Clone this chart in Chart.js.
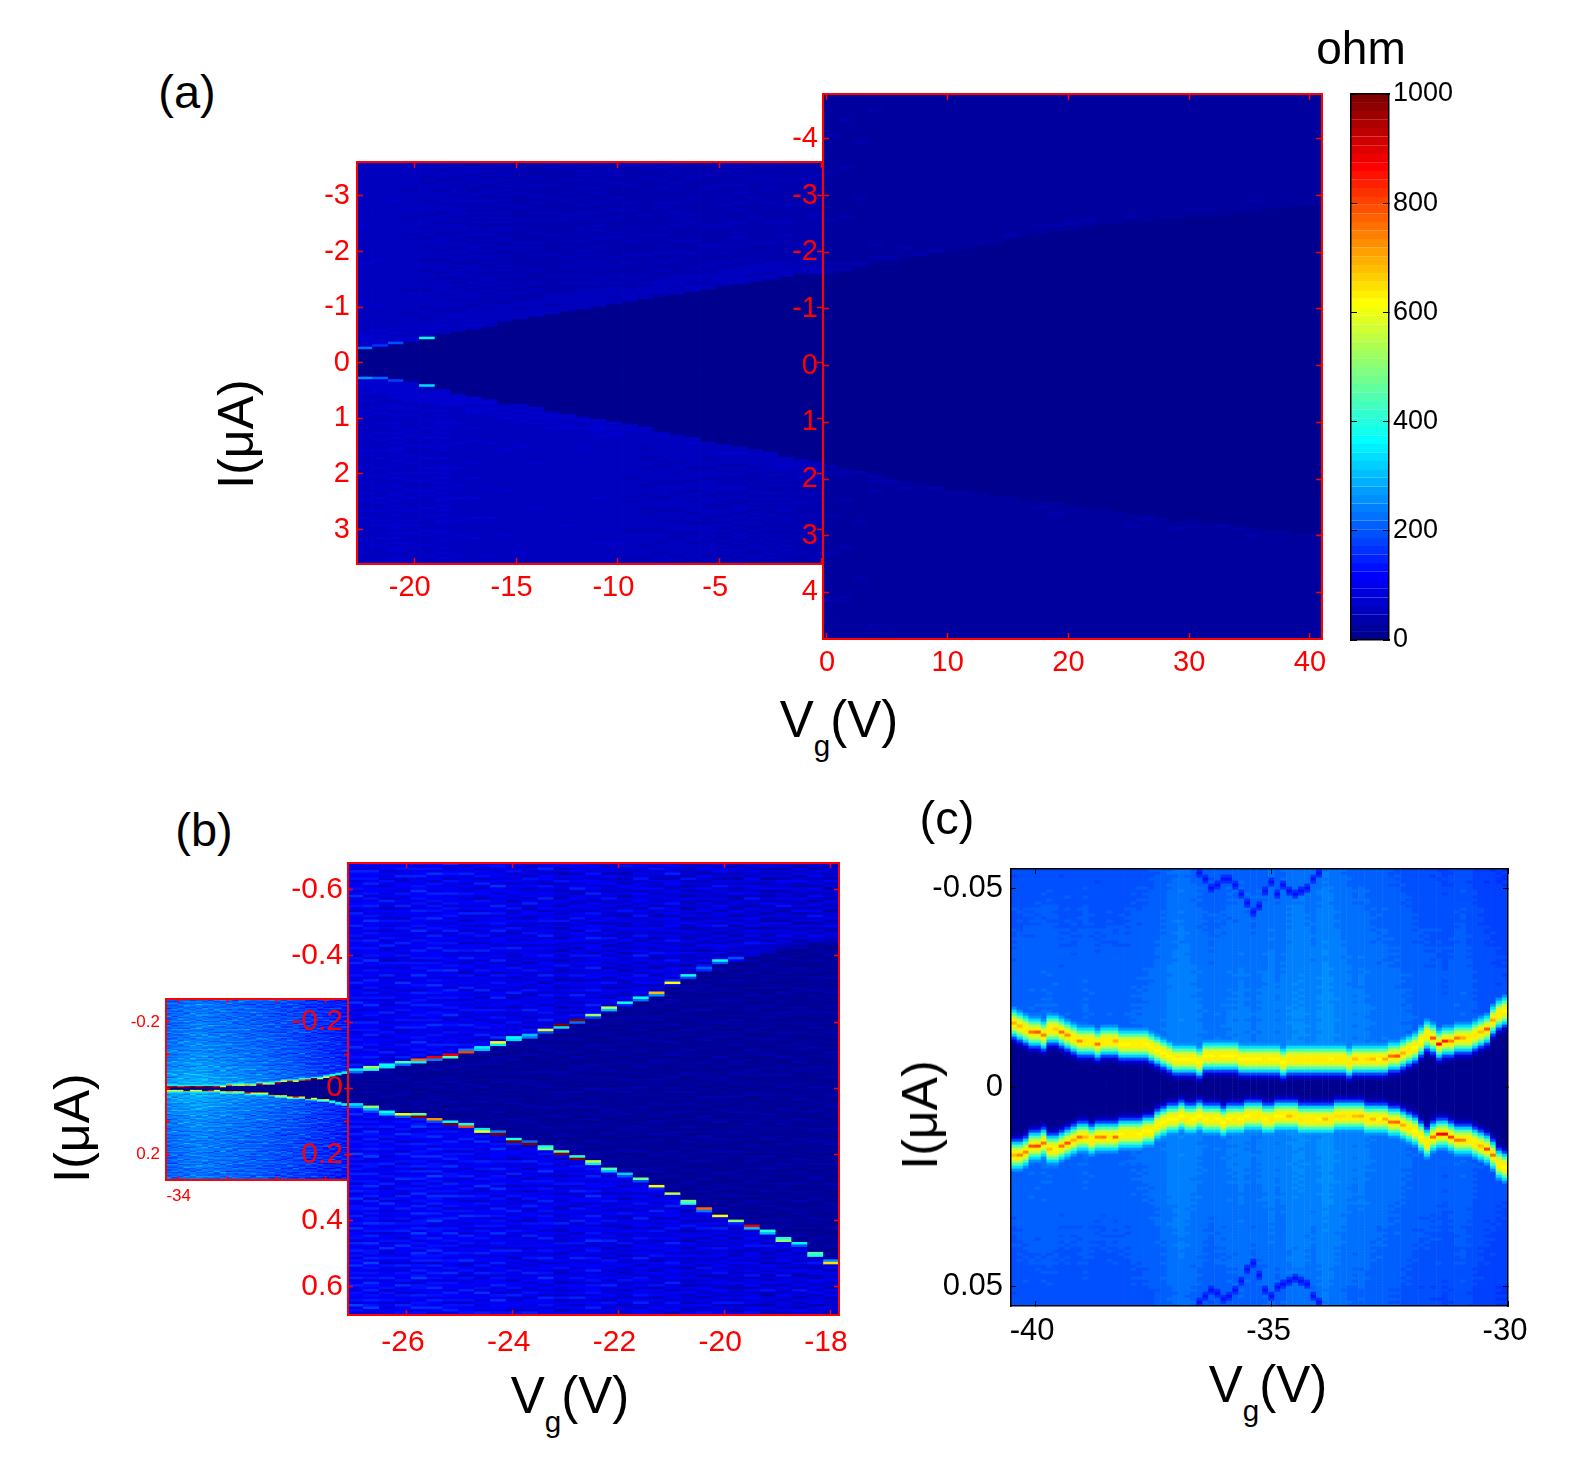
<!DOCTYPE html>
<html><head><meta charset="utf-8">
<script src="https://cdn.jsdelivr.net/npm/chart.js@4/dist/chart.umd.js"></script>
<style>
html,body{margin:0;padding:0;background:#fff;width:1590px;height:1458px;overflow:hidden}
canvas{position:absolute}
.t{position:absolute;font-family:"Liberation Sans",Arial,sans-serif;color:#000;white-space:nowrap;transform:translate(-50%,-50%);line-height:1}
.t sub{font-size:58%;vertical-align:-0.62em;line-height:0}
</style></head><body>
<script>
// ---------- panel (a), negative gate side ----------
const aLeftVg=[-22.43,-21.66,-20.89,-20.13,-19.36,-18.59,-17.83,-17.06,-16.29,-15.53,-14.76,-13.99,-13.23,-12.46,-11.69,-10.93,-10.16,-9.39,-8.63,-7.86,-7.09,-6.33,-5.56,-4.79,-4.03,-3.26,-2.49,-1.73,-0.96,-0.19];
const aLeftUp=[-0.25,-0.29,-0.35,-0.38,-0.44,-0.50,-0.57,-0.61,-0.66,-0.71,-0.76,-0.82,-0.88,-0.93,-0.97,-1.0,-1.04,-1.07,-1.13,-1.2,-1.24,-1.28,-1.33,-1.38,-1.42,-1.46,-1.5,-1.54,-1.57,-1.6];
const aLeftLow=[0.26,0.28,0.34,0.39,0.43,0.49,0.56,0.62,0.68,0.74,0.77,0.82,0.89,0.94,1.0,1.04,1.08,1.12,1.18,1.25,1.3,1.35,1.42,1.47,1.52,1.57,1.62,1.68,1.74,1.8];
const aLeftPeakUp=[230,170,190,70,360];
const aLeftPeakLow=[250,210,180,70,340];
const aLeftTintUp=[56,55,54,52,50,50,49,48,47,46,44,44,43,44,45,45,44,43,42,44,44,43,42,44,44,42,43,42,40,40];
const aLeftTintLow=[60,60,62,60,60,62,58,58,56,56,55,55,54,55,54,55,54,52,50,50,50,50,50,48,48,46,46,46,44,44];
const aLeftXTicks=[-20,-15,-10,-5,0];
const aLeftYTicks=[-3,-2,-1,0,1,2,3];
// ---------- panel (a), positive gate side ----------
const aRightVg=[0.3,1.55,2.8,4.05,5.3,6.55,7.8,9.05,10.3,11.55,12.8,14.05,15.3,16.55,17.8,19.05,20.3,21.55,22.8,24.05,25.3,26.55,27.8,29.05,30.3,31.55,32.8,34.05,35.3,36.55,37.8,39.05,40.3];
const aRightUp=[-1.6,-1.65,-1.7,-1.75,-1.82,-1.89,-1.94,-1.99,-2.01,-2.04,-2.07,-2.14,-2.2,-2.26,-2.32,-2.36,-2.39,-2.43,-2.47,-2.5,-2.52,-2.55,-2.57,-2.6,-2.62,-2.64,-2.66,-2.69,-2.71,-2.74,-2.76,-2.8,-2.83];
const aRightLow=[1.73,1.79,1.85,1.91,1.98,2.03,2.07,2.12,2.17,2.2,2.24,2.28,2.32,2.36,2.4,2.44,2.47,2.51,2.55,2.59,2.63,2.66,2.69,2.72,2.75,2.78,2.81,2.84,2.86,2.89,2.92,2.95,2.99];
const aRightTint=[27,27,26,26,25,25,24,24,24,23,23,23,23,25,25,25,25,24,24,25,25,24,24,24,25,25,24,24,24,24,23,23,23];
const aRightXTicks=[0,10,20,30,40];
const aRightYTicks=[-4,-3,-2,-1,0,1,2,3,4];
// ---------- panel (b), main map ----------
const bVg=[-26.97,-26.67,-26.37,-26.07,-25.77,-25.47,-25.17,-24.87,-24.57,-24.27,-23.97,-23.67,-23.37,-23.07,-22.77,-22.47,-22.17,-21.87,-21.57,-21.27,-20.97,-20.67,-20.37,-20.07,-19.77,-19.47,-19.17,-18.87,-18.57,-18.27,-17.97];
const bUp=[-0.054,-0.059,-0.068,-0.074,-0.082,-0.091,-0.099,-0.112,-0.123,-0.134,-0.150,-0.157,-0.172,-0.190,-0.207,-0.220,-0.243,-0.256,-0.271,-0.290,-0.318,-0.341,-0.360,-0.385,-0.394,-0.407,-0.417,-0.429,-0.437,-0.442,-0.447];
const bLow=[0.051,0.060,0.0695,0.0776,0.0796,0.0927,0.0997,0.1128,0.1249,0.1329,0.153,0.160,0.174,0.189,0.2054,0.2195,0.2447,0.2588,0.2739,0.294,0.3212,0.345,0.3686,0.3857,0.4,0.415,0.432,0.457,0.471,0.4965,0.5236];
const bUpOuter=[350,530,370,450,770,880,880,240,350,610,360,300,590,1000,1000,520,540,380,370,680,610,380,210,370,190,90,70,60,50,50,50];
const bUpInner=[230,400,350,230,350,240,450,800,300,350,330,240,200,330,220,180,300,150,230,260,80,180,150,200,120,70,50,40,40,40,40];
const bLowInner=[340,500,360,600,460,720,370,380,350,250,400,220,400,450,400,560,450,320,480,610,560,480,780,610,500,880,400,400,370,450,250];
const bLowOuter=[260,300,300,200,1000,200,1000,800,620,1000,1000,1000,480,1000,1000,350,300,200,200,150,100,400,240,100,150,300,300,500,200,400,650];
const bTint=[108,112,98,102,112,112,106,98,98,102,90,90,98,80,90,98,84,76,90,80,90,70,76,80,70,80,66,74,70,74,68];
const bXTicks=[-26,-24,-22,-20,-18];
const bYTicks=[-0.6,-0.4,-0.2,0,0.2,0.4,0.6];
// ---------- panel (b), inset map ----------
const sVg=[-34.20,-34.08,-33.95,-33.83,-33.70,-33.58,-33.45,-33.33,-33.21,-33.08,-32.96,-32.83,-32.71,-32.58,-32.46,-32.34,-32.21,-32.09,-31.96,-31.84,-31.71,-31.59,-31.47,-31.34,-31.22,-31.09,-30.97,-30.84,-30.72,-30.59];
const sUp=[-0.003,-0.003,-0.003,-0.003,-0.003,-0.003,-0.003,-0.003,-0.003,-0.004,-0.006,-0.007,-0.008,-0.009,-0.009,-0.010,-0.011,-0.012,-0.015,-0.018,-0.020,-0.021,-0.023,-0.025,-0.027,-0.028,-0.030,-0.034,-0.038,-0.043];
const sLow=[0.0102,0.0102,0.0102,0.0102,0.0102,0.0102,0.0102,0.0102,0.0102,0.011,0.012,0.013,0.014,0.015,0.016,0.017,0.018,0.020,0.023,0.025,0.027,0.028,0.030,0.032,0.034,0.036,0.038,0.041,0.045,0.049];
const sPeakUp=[880,950,800,880,1000,900,1000,1000,880,600,780,560,620,700,560,880,620,560,880,620,950,620,760,880,1000,560,620,400,350,340];
const sPeakLow=[620,600,640,1000,620,640,1000,880,620,580,700,630,560,820,600,620,600,1000,620,600,620,820,640,1000,620,500,620,380,340,330];
const sTint=[225,230,235,240,245,248,245,240,235,235,230,225,225,220,215,215,210,205,200,195,195,190,185,175,170,165,160,155,150,140];
const sBoost=[50,40,30,20,10,5,0,-5,-10,-10,-15,-15,-20,-20];
const sXTicks=[-34,-33,-32,-31];
const sYTicks=[-0.2,-0.1,0,0.1,0.2];
// ---------- panel (c) ----------
const cVg=[-40.45,-40.32,-40.19,-40.07,-39.94,-39.81,-39.69,-39.56,-39.43,-39.31,-39.18,-39.05,-38.93,-38.80,-38.67,-38.55,-38.42,-38.29,-38.17,-38.04,-37.91,-37.79,-37.66,-37.53,-37.41,-37.28,-37.15,-37.03,-36.90,-36.77,-36.65,-36.52,-36.39,-36.27,-36.14,-36.01,-35.89,-35.76,-35.63,-35.51,-35.38,-35.25,-35.13,-35.00,-34.87,-34.75,-34.62,-34.49,-34.37,-34.24,-34.11,-33.99,-33.86,-33.73,-33.61,-33.48,-33.35,-33.23,-33.10,-32.97,-32.85,-32.72,-32.59,-32.47,-32.34,-32.21,-32.09,-31.96,-31.83,-31.71,-31.58,-31.45,-31.33,-31.20,-31.07,-30.95,-30.82,-30.69,-30.57,-30.44,-30.31,-30.19,-30.06];
const cUp=[-.0160,-.01516,-.01432,-.01374,-.01348,-.01265,-.01474,-.01432,-.01365,-.01332,-.01248,-.01181,-.01181,-.01114,-.01055,-.01139,-.01181,-.01131,-.01055,-.01055,-.01064,-.01072,-.01055,-.01013,-.0093,-.00871,-.00779,-.0072,-.00662,-.00695,-.00695,-.00637,-.00745,-.00762,-.00745,-.00762,-.00762,-.00745,-.0072,-.00695,-.00678,-.00695,-.00712,-.00712,-.00678,-.00653,-.00662,-.00695,-.00695,-.00704,-.00704,-.00695,-.00695,-.00695,-.00678,-.00662,-.00628,-.00678,-.00695,-.00695,-.00695,-.00695,-.0072,-.00762,-.00796,-.00812,-.0093,-.00997,-.01139,-.01307,-.01223,-.0108,-.01114,-.01181,-.01198,-.01223,-.01248,-.01307,-.01348,-.01432,-.01642,-.01851,-.01935];
const cLow=[.0175,.01683,.01608,.01516,.01482,.01399,.01583,.01541,.01457,.01415,.01332,.0129,.0129,.01315,.01265,.01231,.01231,.01231,.01164,.01164,.01164,.01164,.01147,.0108,.00955,.00871,.00829,.00812,.00771,.00787,.00812,.00745,.00812,.00829,.00846,.00871,.00846,.00812,.00787,.00762,.00745,.00771,.00804,.00796,.00771,.00745,.00729,.00762,.00787,.00804,.00796,.00812,.00796,.00787,.00771,.00745,.00729,.00745,.00771,.00787,.00796,.00787,.00812,.00871,.00913,.0093,.01013,.01122,.01265,.01415,.01265,.01164,.01206,.01265,.01315,.01332,.01348,.01415,.01482,.01566,.0175,.0196,.02044];
const cPeakUp=[700,680,640,760,790,740,625,660,760,720,640,720,630,640,760,625,630,700,620,620,625,625,620,620,610,610,615,610,620,620,610,615,620,620,625,620,620,620,620,620,620,620,625,620,620,620,625,625,630,625,630,625,630,620,625,630,640,680,640,650,680,620,700,760,790,700,625,620,620,630,790,860,840,740,760,700,630,630,680,790,700,630,620];
const cPeakLow=[680,740,720,790,810,760,680,620,760,790,700,760,680,640,720,740,630,760,620,640,640,620,620,610,610,620,610,620,620,625,610,620,620,625,620,620,610,625,620,620,625,625,620,625,620,620,680,640,630,630,625,620,680,630,650,650,640,680,690,640,680,620,700,760,780,700,625,620,620,630,760,860,880,810,760,740,640,625,680,810,760,640,610];
const cTint=[205,208,208,210,210,212,212,210,206,208,206,208,212,208,206,206,208,206,208,208,212,212,214,216,220,224,232,236,240,236,232,228,224,220,224,224,228,228,232,228,224,228,232,236,228,232,240,244,244,240,236,244,250,246,240,236,232,228,232,228,224,222,222,218,218,214,212,208,206,206,204,204,200,204,208,210,204,198,194,190,190,186,186];
const cFade=[0,8,8,8,6,4,0,-3,-6,-10,-15,-20];
const cArcUp=[-.0537,-.052,-.0499,-.0507,-.0524,-.052,-.0507,-.0487,-.0461,-.044,-.0457,-.0495,-.0516,-.0482,-.0503,-.0495,-.0482,-.0491,-.0499,-.0524,-.0537];
const cArcLow=[.0545,.0530,.0515,.0520,.0535,.0523,.0510,.0485,.0460,.0443,.0477,.0510,.0523,.0502,.0493,.0485,.0481,.0490,.0498,.0523,.0540];
const cArcFirstCol=31;
const cXTicks=[-40,-35,-30];
const cYTicks=[-0.05,0,0.05];
// ---------- colour bar ----------
const barLevels=[8,23,39,55,70,86,102,117,133,148,164,180,195,211,227,242,258,273,289,305,320,336,352,367,383,398,414,430,445,461,477,492,508,523,539,555,570,586,602,617,633,648,664,680,695,711,727,742,758,773,789,805,820,836,852,867,883,898,914,930,945,961,977,992];
const barTicks=[0,200,400,600,800,1000];
// ---------- hand-read texture of the scan rows ----------
const noiseRow=[-12,8,-25,30,4,-6,18,-30,12,-3,22,-18,5,40,-10,-22,9,15,-5,-28,26,2,-14,11,-8,33,-20,6,-2,17,-33,20,-9,3,24,-16,7,-26,14,-4,36,-12,1,10,-21,19,-7,-15,28,-1,-24,12,5,-11,16,-19,43,-6,8,-29,13];
const noiseShift=[0,17,41,8,29,52,13,36,5,47,22,58,11,33,3,44,26,55,19,38,9,50,15,31,1,42,24,57,6,35,49];

const nz=(r,c)=>noiseRow[(r+noiseShift[c%noiseShift.length])%noiseRow.length];
const SANS='"Liberation Sans",Arial,sans-serif';

const jetTable=[];
for(let i=0;i<64;i++){const t=(i+1)/64,f=v=>Math.round(255*Math.max(0,Math.min(1,v)));
  jetTable.push(`rgb(${f(1.5-Math.abs(4*t-3))},${f(1.5-Math.abs(4*t-2))},${f(1.5-Math.abs(4*t-1))})`);}
const jet=v=>jetTable[Math.max(0,Math.min(63,Math.floor(v/1000*64)))];

function cells(cols,yMin,yMax,rowH,valueAt){
  const out=[],n=Math.ceil((yMax-yMin)/rowH);
  for(let c=0;c<cols.length;c++)for(let r=0;r<n;r++){
    const lo=yMin+r*rowH;
    out.push({x:cols[c],y:[lo,lo+rowH],v:valueAt(c,r,lo+rowH/2)});
  }
  return out;
}
function axis(o){
  const horizontal=o.position==='top'||o.position==='bottom';
  return {
    type:'linear',axis:horizontal?'x':'y',position:o.position,min:o.min,max:o.max,reverse:!!o.reverse,offset:false,
    grid:{display:true,drawOnChartArea:false,offset:false,color:o.color,tickColor:o.color,tickLength:-(o.tick||6),tickWidth:o.tickWidth||1.5,z:2},
    border:{display:true,color:o.color,width:o.borderWidth||2,z:2},
    ticks:{display:!!o.labels,color:o.color,font:{family:SANS,size:o.font||26},padding:o.pad||14,labelOffset:o.shift||0,autoSkip:false,maxRotation:0,minRotation:0,z:3,
      callback:v=>{const l=o.labels;if(!l)return '';return l.includes(v)?String(v):'';}},
    afterBuildTicks:s=>{s.ticks=(o.list||[]).map(v=>({value:v}));},
    afterFit:s=>{if(horizontal)s.height=o.size;else s.width=o.size;}
  };
}
function panel(o){
  const cv=document.createElement('canvas');
  const [x0,y0,x1,y1]=o.box,[L,T,R,B]=o.margin;
  cv.width=x1-x0+L+R;cv.height=y1-y0+T+B;
  cv.style.left=(x0-L)+'px';cv.style.top=(y0-T)+'px';
  cv.style.width=cv.width+'px';cv.style.height=cv.height+'px';
  document.body.appendChild(cv);
  const a=o.axes,base={color:o.color,font:o.font,tick:o.tick,tickWidth:o.tickWidth,borderWidth:o.borderWidth};
  return new Chart(cv,{
    type:'bar',
    data:{datasets:[{label:o.name,data:o.data,xAxisID:'x',yAxisID:'y',grouped:false,barPercentage:1,categoryPercentage:1,
      borderWidth:0,inflateAmount:o.inflate===undefined?0.45:o.inflate,backgroundColor:c=>jet(c.raw.v)}]},
    options:{
      responsive:false,animation:false,events:[],devicePixelRatio:1,indexAxis:o.indexAxis||'x',
      layout:{autoPadding:false,padding:0},
      plugins:{legend:{display:false},title:{display:false},tooltip:{enabled:false}},
      scales:{
        x:axis({...base,position:'bottom',min:a.x[0],max:a.x[1],list:a.xTicks,labels:a.xLabels,size:B,pad:o.padX,shift:o.shiftX}),
        x2:axis({...base,position:'top',min:a.x[0],max:a.x[1],list:a.xTicks,size:T}),
        y:axis({...base,position:a.yRight?'right':'left',min:a.y[0],max:a.y[1],reverse:a.yRev,list:a.yTicks,labels:a.yLabels,size:a.yRight?R:L,pad:o.padY}),
        y2:axis({...base,position:a.yRight?'left':'right',min:a.y[0],max:a.y[1],reverse:a.yRev,list:a.yTicks,size:a.yRight?L:R})
      }
    }
  });
}

// ---- panel (a) left ----
{const yMin=-3.61,yMax=3.62,h=0.045,row=I=>Math.floor((I-yMin)/h);
panel({name:'R(Vg<0)',box:[357,162,823,564],margin:[70,40,40,50],color:'#f00',font:29,padX:13,padY:13,shiftX:-4.5,
  axes:{x:[-22.81,0.07],y:[yMin,yMax],yRev:true,xTicks:aLeftXTicks,xLabels:[-20,-15,-10,-5],yTicks:aLeftYTicks,yLabels:aLeftYTicks},
  data:cells(aLeftVg,yMin,yMax,h,(c,r,I)=>{
    const up=aLeftUp[c],lo=aLeftLow[c];
    if(r===row(up)&&aLeftPeakUp[c])return aLeftPeakUp[c];
    if(r===row(lo)&&aLeftPeakLow[c])return aLeftPeakLow[c];
    if(I>up&&I<lo)return 2;
    const near=Math.min(Math.abs(I-up),Math.abs(I-lo))<0.3?8:0;
    return (I<0?aLeftTintUp[c]:aLeftTintLow[c])+near+nz(r,c)*0.2;
  })});}
// ---- panel (a) right ----
{const yMin=-4.79,yMax=4.82,h=0.055;
panel({name:'R(Vg>0)',box:[823,94,1322,639],margin:[70,40,40,50],color:'#f00',font:29,padX:13,padY:11,
  axes:{x:[-0.33,41],y:[yMin,yMax],yRev:true,xTicks:aRightXTicks,xLabels:aRightXTicks,yTicks:aRightYTicks,yLabels:aRightYTicks},
  data:cells(aRightVg,yMin,yMax,h,(c,r,I)=>{
    if(I>aRightUp[c]&&I<aRightLow[c])return 2;
    const near=Math.min(Math.abs(I-aRightUp[c]),Math.abs(I-aRightLow[c]))<0.2?4:0;
    return aRightTint[c]+near+nz(r,c)*0.14;
  })});}
// ---- colour bar ----
panel({name:'colour scale',box:[1351,94,1389,640],margin:[40,40,90,40],color:'#000',font:27,padY:10,tick:6,tickWidth:1,borderWidth:1.5,indexAxis:'y',inflate:0.3,
  axes:{x:[0,1],y:[0,1000],yRight:true,xTicks:[],yTicks:barTicks,yLabels:barTicks},
  data:barLevels.map(v=>({x:[0,1],y:v,v}))});
// ---- panel (b) inset ----
{const yMin=-0.269,yMax=0.278,h=0.004,row=I=>Math.floor((I-yMin)/h);
panel({name:'R inset',box:[166,999,348,1180],margin:[50,40,40,40],color:'#f00',font:17,padX:10,padY:10,tick:4,
  axes:{x:[-34.26,-30.53],y:[yMin,yMax],yRev:true,xTicks:sXTicks,xLabels:[-34],yTicks:sYTicks,yLabels:[-0.2,0.2]},
  data:cells(sVg,yMin,yMax,h,(c,r,I)=>{
    const ru=row(sUp[c]),rl=row(sLow[c]);
    if(r===ru)return sPeakUp[c];
    if(r===rl)return sPeakLow[c];
    if(r===ru-1||r===rl+1)return 380;
    if(r>ru&&r<rl)return 2;
    const b=sBoost[Math.min(sBoost.length-1,Math.floor(Math.abs(I)/0.02))]*(1-c/40);
    return sTint[c]+b+nz(r,c)*1.6;
  })});}
// ---- panel (b) main ----
{const yMin=-0.681,yMax=0.686,h=0.0075,row=I=>Math.floor((I-yMin)/h);
panel({name:'R main',box:[348,863,839,1315],margin:[100,40,40,50],color:'#f00',font:30,padX:15,padY:10,shiftX:-4,tick:5,
  axes:{x:[-27.115,-17.83],y:[yMin,yMax],yRev:true,xTicks:bXTicks,xLabels:bXTicks,yTicks:bYTicks,yLabels:bYTicks},
  data:cells(bVg,yMin,yMax,h,(c,r,I)=>{
    const ru=row(bUp[c]),rl=row(bLow[c]);
    if(r===ru)return bUpOuter[c];
    if(r===ru+1)return bUpInner[c];
    if(r===rl)return bLowInner[c];
    if(r===rl+1)return bLowOuter[c];
    if(r>ru&&r<rl)return Math.max(0,20+nz(r,c)*0.5);
    return bTint[c]+(I>0?8:0)+nz(r,c)*1.3;
  })});}
// ---- panel (c) ----
{const yMin=-0.0548,yMax=0.055,h=0.000754,row=I=>Math.floor((I-yMin)/h);
const side=[0,625,560,440,340,260],inner=[0,625,560,440,320,180,70,20];
panel({name:'R(c)',box:[1011,869,1508,1306],margin:[110,40,40,50],color:'#000',font:31,padX:12,padY:13,shiftX:-3,tick:5,tickWidth:1,borderWidth:1.5,
  axes:{x:[-40.51,-30],y:[yMin,yMax],yRev:true,xTicks:cXTicks,xLabels:cXTicks,yTicks:cYTicks,yLabels:cYTicks},
  data:cells(cVg,yMin,yMax,h,(c,r,I)=>{
    const ru=row(cUp[c]),rl=row(cLow[c]),k=r-ru,m=rl-r;
    if(k===0)return cPeakUp[c];
    if(m===0)return cPeakLow[c];
    if(k<0&&-k<side.length)return side[-k];
    if(m<0&&-m<side.length)return side[-m];
    if(k>0&&k<inner.length)return inner[k];
    if(m>0&&m<inner.length)return inner[m];
    if(k>0&&m>0)return 0;
    const a=c-cArcFirstCol;
    if(a>=0&&a<cArcUp.length){
      const arc=Math.min(Math.abs(r-row(cArcUp[a])),Math.abs(r-row(cArcLow[a])));
      if(arc===0)return 125;
      if(arc===1)return 165;
    }
    return cTint[c]+cFade[Math.min(cFade.length-1,Math.floor(Math.abs(I)/0.005))]+nz(r,c)*0.12;
  })});}

// ---- text ----
function text(html,x,y,size,rot){
  const d=document.createElement('div');d.className='t';d.innerHTML=html;
  d.style.left=x+'px';d.style.top=y+'px';d.style.fontSize=size+'px';
  if(rot)d.style.transform='translate(-50%,-50%) rotate(-90deg)';
  document.body.appendChild(d);
}
text('(a)',187,91,47);text('(b)',204,829,47);text('(c)',947,817,47);
text('ohm',1361,48,46);
text('V<sub>g</sub>(V)',839,720,51);text('V<sub>g</sub>(V)',570,1396,51);text('V<sub>g</sub>(V)',1268,1385,51);
text('I(μA)',236,434,50,true);text('I(μA)',72,1128,50,true);text('I(μA)',920,1115,50,true);
</script>
</body></html>
